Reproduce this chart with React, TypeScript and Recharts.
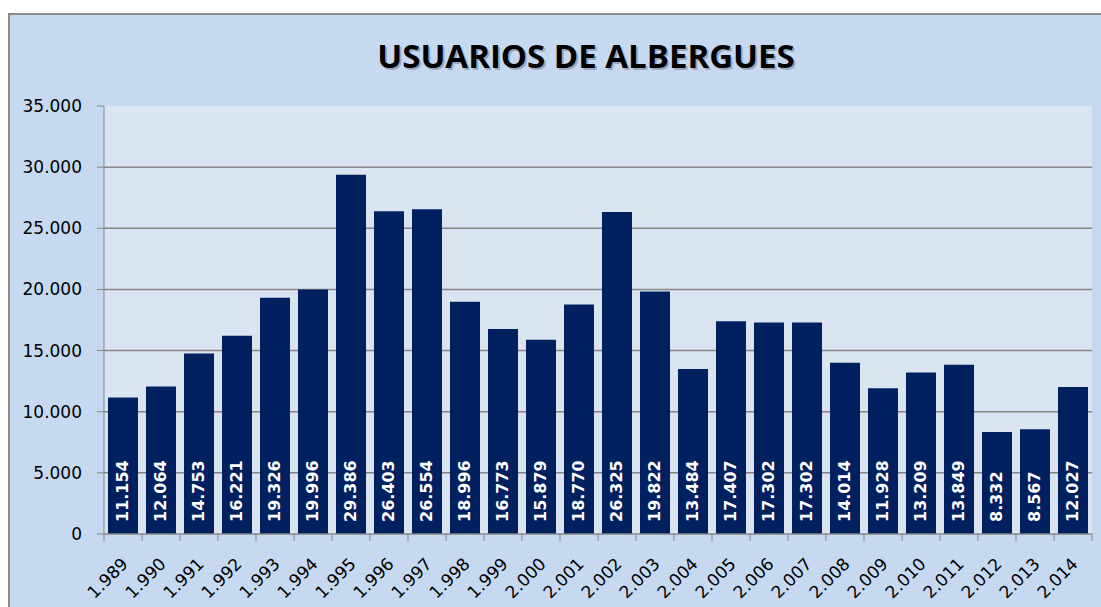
import React from "react";
import { Bar, BarChart, CartesianGrid, LabelList, XAxis, YAxis } from "recharts";

const years = [
  "1.989", "1.990", "1.991", "1.992", "1.993", "1.994", "1.995", "1.996", "1.997",
  "1.998", "1.999", "2.000", "2.001", "2.002", "2.003", "2.004", "2.005", "2.006",
  "2.007", "2.008", "2.009", "2.010", "2.011", "2.012", "2.013", "2.014",
];
const users = [
  11154, 12064, 14753, 16221, 19326, 19996, 29386, 26403, 26554, 18996, 16773, 15879,
  18770, 26325, 19822, 13484, 17407, 17302, 17302, 14014, 11928, 13209, 13849, 8332,
  8567, 12027,
];
const yTicks = [0, 5000, 10000, 15000, 20000, 25000, 30000, 35000];
const gridValues = [5000, 10000, 15000, 20000, 25000, 30000];

const data = years.map((year, i) => ({ year, users: users[i] }));

const W = 1101;
const H = 607;
const MARGIN = { top: 106, right: 9, bottom: 0, left: 0 };
const Y_AXIS_W = 104;
const BAND = (W - MARGIN.right - MARGIN.left - Y_AXIS_W) / years.length;
const AXIS = "#868686";
const FONT = "'DejaVu Sans', Verdana, sans-serif";

const fmt = (v: number) => String(v).replace(/\B(?=(\d{3})+(?!\d))/g, ".");

const YearTick = (props: any) => {
  const { x, y, payload } = props;
  const half = BAND / 2;
  const ax = x + 6;
  const ay = y + 31;
  return (
    <g>
      <line x1={x - half} x2={x - half} y1={y} y2={y + 7} stroke={AXIS} />
      {payload.value === years[years.length - 1] && (
        <line x1={x + half} x2={x + half} y1={y} y2={y + 7} stroke={AXIS} />
      )}
      <text
        x={ax}
        y={ay}
        textAnchor="end"
        transform={`rotate(-45 ${ax} ${ay})`}
        fill="#000"
        fontSize={17}
        fontFamily={FONT}
      >
        {payload.value}
      </text>
    </g>
  );
};

const BarValue = (props: any) => {
  const { x, y, width, height, value } = props;
  const cx = x + width / 2;
  const by = y + height - 12;
  return (
    <text
      x={cx}
      y={by}
      transform={`rotate(-90 ${cx} ${by})`}
      textAnchor="start"
      dominantBaseline="central"
      fill="#fff"
      fontWeight="bold"
      fontSize={16}
      fontFamily={FONT}
    >
      {fmt(value)}
    </text>
  );
};

export default function App() {
  return (
    <div style={{ position: "relative", width: W, height: H, overflow: "hidden", background: "#fff" }}>
      <style>{`html,body{margin:0;overflow:hidden;}`}</style>
      <div
        style={{
          position: "absolute",
          left: 8,
          top: 13,
          width: W,
          height: H,
          background: "#c6d9f0",
          borderLeft: "2px solid #8c8c8c",
          borderTop: "2px solid #8c8c8c",
        }}
      />
      <svg width={W} height={100} style={{ position: "absolute", left: 0, top: 0 }}>
        <text
          x={588}
          y={70}
          textAnchor="middle"
          fontFamily="'Open Sans', sans-serif"
          fontWeight="bold"
          fontSize={33}
          fill="rgba(0,0,0,0.22)"
        >
          USUARIOS DE ALBERGUES
        </text>
        <text
          x={586}
          y={68}
          textAnchor="middle"
          fontFamily="'Open Sans', sans-serif"
          fontWeight="bold"
          fontSize={33}
          fill="#000"
        >
          USUARIOS DE ALBERGUES
        </text>
      </svg>
      <div style={{ position: "absolute", left: 0, top: 0 }}>
        <BarChart width={W} height={H} data={data} margin={MARGIN} barCategoryGap="10.5%">
          <CartesianGrid
            fill="#dbe5f1"
            vertical={false}
            stroke={AXIS}
            strokeWidth={1.5}
            horizontalValues={gridValues}
          />
          <XAxis
            dataKey="year"
            interval={0}
            height={H - 534}
            axisLine={{ stroke: AXIS, strokeWidth: 1.5 }}
            tickLine={false}
            tickSize={0}
            tickMargin={0}
            tick={<YearTick />}
          />
          <YAxis
            width={Y_AXIS_W}
            domain={[0, 35000]}
            ticks={yTicks}
            interval={0}
            tickFormatter={fmt}
            axisLine={{ stroke: AXIS }}
            tickLine={{ stroke: AXIS }}
            tickSize={7}
            tickMargin={15}
            tick={{ fill: "#000", fontSize: 17, fontFamily: FONT }}
          />
          <Bar dataKey="users" fill="#002060" isAnimationActive={false}>
            <LabelList dataKey="users" content={<BarValue />} />
          </Bar>
        </BarChart>
      </div>
    </div>
  );
}
